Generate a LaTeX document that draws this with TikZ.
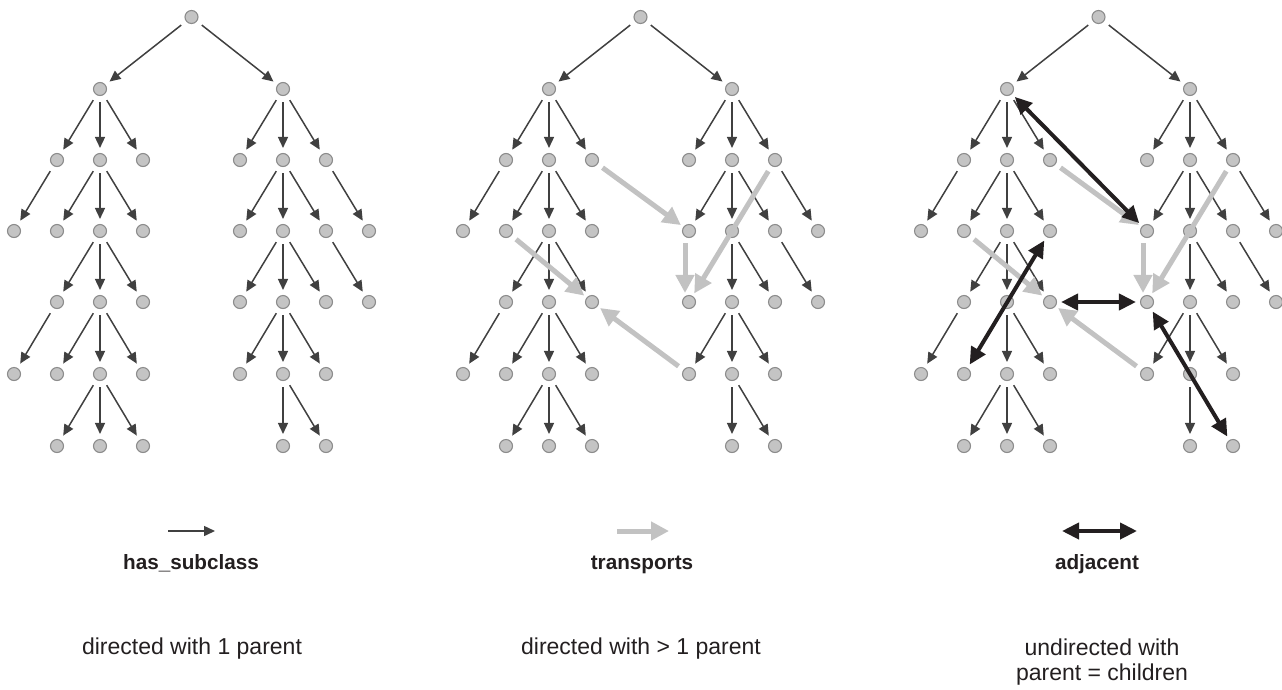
\documentclass[tikz,border=0pt]{standalone}
\usepackage{fontspec}
\setmainfont{Liberation Sans}
\usetikzlibrary{arrows.meta}

\definecolor{dotfill}{HTML}{C4C4C4}
\definecolor{dotline}{HTML}{8C8C8C}
\definecolor{subcl}{HTML}{404040}
\definecolor{transp}{HTML}{C2C2C2}
\definecolor{adjc}{HTML}{231F20}

\tikzset{
  dot/.style={circle, fill=dotfill, draw=dotline, line width=1.1pt,
    inner sep=0pt, minimum size=13pt},
  subclass/.style={draw=subcl, line width=1.5pt,
    -{Triangle[length=11pt,width=10pt]}, shorten <=6pt, shorten >=5pt},
  carry/.style={draw=transp, line width=5pt,
    -{Triangle[length=18pt,width=18pt]}, shorten <=6pt, shorten >=3pt},
  adjoin/.style={draw=adjc, line width=4pt,
    {Triangle[length=17pt,width=16pt]}-{Triangle[length=17pt,width=16pt]},
    shorten <=4pt, shorten >=4pt},
  caption/.style={font=\fontsize{23}{25}\selectfont, text=adjc, anchor=base, inner sep=0pt},
  relname/.style={font=\bfseries\fontsize{20.7}{24}\selectfont, text=adjc, anchor=base, inner sep=0pt}
}

% one has_subclass tree: nodes and their parent-to-child arrows
\newcommand\panelTree{%
  \node[dot] (root) at (191.5,17) {};
  \foreach \x in {100,283} \node[dot] (n1-\x) at (\x,89) {};
  \foreach \x in {57,100,143,240,283,326} \node[dot] (n2-\x) at (\x,160) {};
  \foreach \x in {14,57,100,143,240,283,326,369} \node[dot] (n3-\x) at (\x,231) {};
  \foreach \x in {57,100,143,240,283,326,369} \node[dot] (n4-\x) at (\x,302) {};
  \foreach \x in {14,57,100,143,240,283,326} \node[dot] (n5-\x) at (\x,374) {};
  \foreach \x in {57,100,143,283,326} \node[dot] (n6-\x) at (\x,446) {};
  \foreach \p/\c in {root/n1-100, root/n1-283,
      n1-100/n2-57, n1-100/n2-100, n1-100/n2-143,
      n1-283/n2-240, n1-283/n2-283, n1-283/n2-326,
      n2-57/n3-14, n2-100/n3-57, n2-100/n3-100, n2-100/n3-143,
      n2-283/n3-240, n2-283/n3-283, n2-283/n3-326, n2-326/n3-369,
      n3-100/n4-57, n3-100/n4-100, n3-100/n4-143,
      n3-283/n4-240, n3-283/n4-283, n3-283/n4-326, n3-326/n4-369,
      n4-57/n5-14, n4-100/n5-57, n4-100/n5-100, n4-100/n5-143,
      n4-283/n5-240, n4-283/n5-283, n4-283/n5-326,
      n5-100/n6-57, n5-100/n6-100, n5-100/n6-143,
      n5-283/n6-283, n5-283/n6-326}
    \draw[subclass] (\p) -- (\c);
}

% transports links between the two subtrees
\newcommand\transportLinks[1]{%
  \draw[carry] (#1n2-143) -- (#1n3-240);
  \draw[carry] (#1n2-326) -- (#1n4-240);
  \draw[carry, shorten <=5pt, shorten >=2pt]
    ([xshift=-4pt]#1n3-240.south) -- ([xshift=-4pt]#1n4-240.north);
  \draw[carry] (#1n3-57) -- (#1n4-143);
  \draw[carry] (#1n5-240) -- (#1n4-143);
}

\begin{document}
\begin{tikzpicture}[x=1pt, y=-1pt]
  \useasboundingbox (0,0) rectangle (1282,689);

  \begin{scope}[name prefix=a-]
    \panelTree
  \end{scope}
  \begin{scope}[xshift=449pt, name prefix=b-]
    \panelTree
  \end{scope}
  \begin{scope}[xshift=907pt, name prefix=c-]
    \panelTree
  \end{scope}

  \transportLinks{b-}
  \transportLinks{c-}

  % adjacent links
  \draw[adjoin] (c-n1-100) -- (c-n3-240);
  \draw[adjoin] (c-n3-143) -- (c-n5-57);
  \draw[adjoin] (c-n4-143) -- (c-n4-240);
  \draw[adjoin] (c-n4-240) -- (c-n6-326);

  % legend
  \coordinate (ka1) at (168,531);
  \coordinate (ka2) at (215,531);
  \draw[subclass, shorten <=0pt, shorten >=0pt] (ka1) -- (ka2);
  \coordinate (kb1) at (617,531);
  \coordinate (kb2) at (669,531);
  \draw[carry, shorten <=0pt, shorten >=0pt] (kb1) -- (kb2);
  \coordinate (kc1) at (1062,531);
  \coordinate (kc2) at (1137,531);
  \draw[adjoin, shorten <=0pt, shorten >=0pt] (kc1) -- (kc2);

  \node[relname] (t1) at (191,569) {has\_subclass};
  \node[relname] (t2) at (642,569) {transports};
  \node[relname] (t3) at (1097,569) {adjacent};

  \node[caption] (c1) at (192,654) {directed with 1 parent};
  \node[caption] (c2) at (641,654) {directed with > 1 parent};
  \node[caption] (c3) at (1102,655) {undirected with};
  \node[caption] (c4) at (1102,680) {parent = children};
\end{tikzpicture}
\end{document}
